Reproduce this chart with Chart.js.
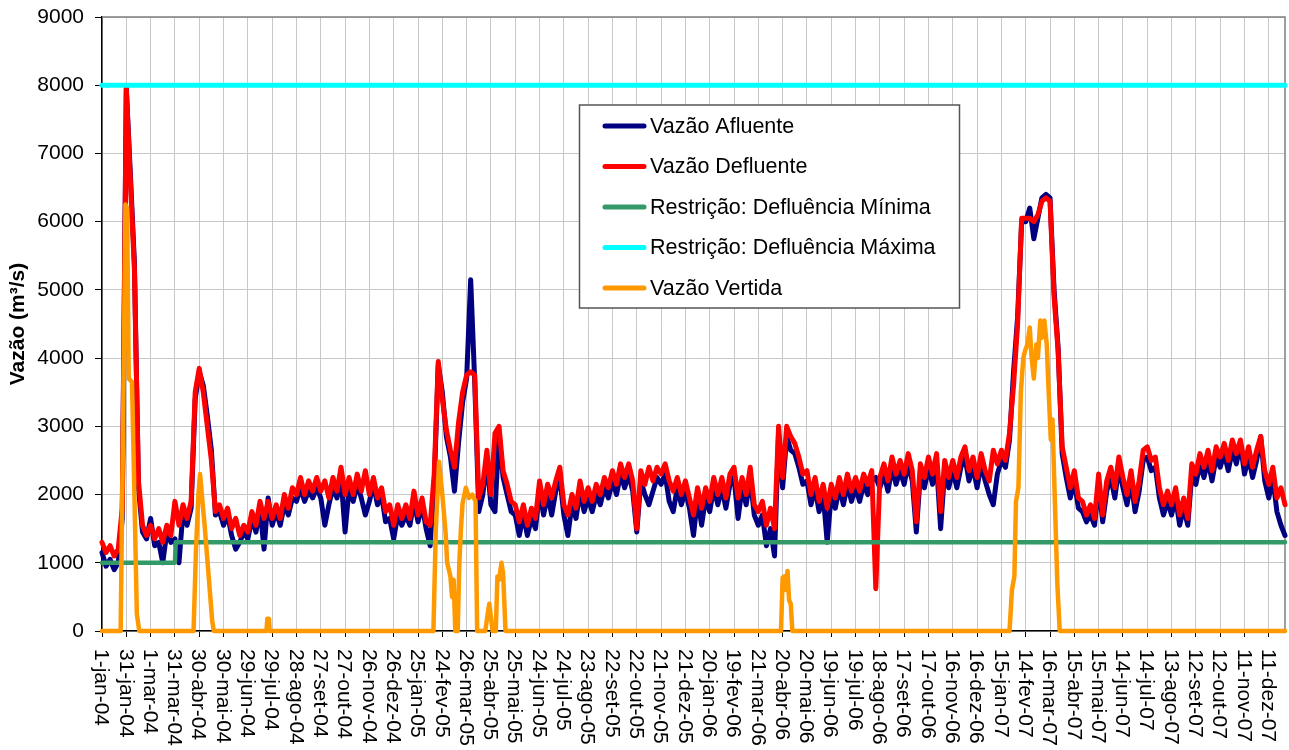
<!DOCTYPE html>
<html lang="pt">
<head>
<meta charset="utf-8">
<title>Vazões 2004-2007</title>
<script src="https://cdn.jsdelivr.net/npm/chart.js"></script>
<style>
  html, body { margin: 0; padding: 0; background: #fff; }
  #grafico { display: block; }
</style>
</head>
<body>
<canvas id="grafico" width="1289" height="750"></canvas>
<script>
// Rótulos do eixo X (um a cada 30 dias a partir de 1-jan-04)
const rotulosX = [
  '1-jan-04', '31-jan-04', '1-mar-04', '31-mar-04', '30-abr-04', '30-mai-04', '29-jun-04',
  '29-jul-04', '28-ago-04', '27-set-04', '27-out-04', '26-nov-04', '26-dez-04', '25-jan-05',
  '24-fev-05', '26-mar-05', '25-abr-05', '25-mai-05', '24-jun-05', '24-jul-05', '23-ago-05',
  '22-set-05', '22-out-05', '21-nov-05', '21-dez-05', '20-jan-06', '19-fev-06', '21-mar-06',
  '20-abr-06', '20-mai-06', '19-jun-06', '19-jul-06', '18-ago-06', '17-set-06', '17-out-06',
  '16-nov-06', '16-dez-06', '15-jan-07', '14-fev-07', '16-mar-07', '15-abr-07', '15-mai-07',
  '14-jun-07', '14-jul-07', '13-ago-07', '12-set-07', '12-out-07', '11-nov-07', '11-dez-07'
];
const diasEntreRotulos = 30;
const ultimoDia = 1460;

// Vazões, uma amostra a cada 5 dias (m³/s)
const passoDias = 5;
const vazaoDefluente = [
  1300, 1150, 1250, 1100, 1200, 1800,   7950, 6600, 5300, 2200, 1550, 1400,
  1550, 1350, 1500, 1300, 1550, 1400,   1900, 1550, 1850, 1650, 1900, 3500,
  3850, 3500, 3000, 2500, 1750, 1850,   1650, 1800, 1500, 1650, 1400, 1550,
  1450, 1750, 1550, 1900, 1650, 1900,   1650, 1850, 1650, 2000, 1800, 2100,
  2000, 2250, 2000, 2200, 2050, 2250,   2050, 2200, 1950, 2250, 2050, 2400,
  2000, 2250, 2000, 2300, 2050, 2350,   2000, 2250, 1950, 2100, 1750, 1850,
  1550, 1850, 1650, 1850, 1650, 2050,   1700, 1950, 1600, 1550, 2300, 3950,
  3400, 2950, 2650, 2400, 3050, 3500,   3750, 3800, 3750, 1950, 2150, 2650,
  2000, 2900, 3000, 2350, 2150, 1900,   1850, 1600, 1850, 1550, 1800, 1650,
  2200, 1850, 2150, 1950, 2200, 2400,   1850, 1700, 2000, 1800, 2200, 1900,
  2100, 1900, 2150, 2000, 2250, 2100,   2350, 2150, 2450, 2250, 2450, 2200,
  1500, 2350, 2150, 2400, 2200, 2400,   2300, 2450, 2200, 2050, 2250, 2000,
  2200, 1950, 1700, 2100, 1800, 2100,   1900, 2250, 2000, 2250, 1950, 2300,
  2400, 1950, 2250, 2000, 2400, 1850,   1750, 1900, 1550, 1800, 1500, 3000,
  2250, 3000, 2850, 2750, 2550, 2300,   2350, 2000, 2250, 1900, 2150, 1800,
  2150, 1950, 2250, 2000, 2300, 2050,   2250, 2050, 2300, 2150, 2350, 620,
  2250, 2450, 2200, 2550, 2300, 2500,   2300, 2600, 2350, 1600, 2450, 2250,
  2550, 2300, 2600, 1750, 2500, 2250,   2500, 2250, 2550, 2700, 2350, 2550,
  2250, 2600, 2350, 2200, 2650, 2450,   2650, 2500, 2900, 3600, 4500, 6050,
  6050, 6050, 6000, 6100, 6300, 6350,   6300, 4900, 4100, 2700, 2400, 2100,
  2350, 1950, 1900, 1700, 1850, 1650,   2300, 1700, 2200, 2400, 2100, 2550,
  2250, 2000, 2350, 1900, 2200, 2650,   2700, 2500, 2550, 2100, 1850, 2050,
  1850, 2100, 1700, 1950, 1650, 2450,   2300, 2600, 2400, 2650, 2350, 2700,
  2550, 2750, 2500, 2800, 2600, 2800,   2450, 2700, 2400, 2650, 2850, 2350,
  2150, 2400, 1950, 2100, 1850
];
const vazaoAfluente = [
  1150, 950, 1050, 900, 1000, 1650,     7950, 6700, 5400, 2100, 1450, 1350,
  1650, 1250, 1300, 1000, 1450, 1300,   1350, 1000, 1750, 1550, 1800, 3400,
  3800, 3600, 3150, 2650, 1700, 1750,   1550, 1700, 1400, 1200, 1300, 1450,
  1350, 1650, 1450, 1800, 1200, 1950,   1550, 1750, 1550, 1850, 1700, 1950,
  1900, 2100, 1900, 2050, 1950, 2100,   1950, 1550, 1850, 2100, 1950, 2250,
  1450, 2100, 1900, 2150, 1950, 1700,   1900, 2150, 1850, 2000, 1600, 1650,
  1350, 1700, 1550, 1700, 1550, 1900,   1600, 1850, 1500, 1250, 2150, 3900,
  3500, 2850, 2550, 2050, 2750, 3350,   3700, 5150, 3650, 1750, 2000, 2500,
  1850, 1750, 2900, 2250, 2000, 1750,   1700, 1400, 1700, 1400, 1650, 1500,
  2050, 1700, 2000, 1700, 2050, 2250,   1700, 1400, 1850, 1650, 2050, 1750,
  1950, 1750, 2000, 1850, 2100, 1950,   2200, 2000, 2300, 2100, 2300, 2050,
  1450, 2200, 2000, 1850, 2050, 2250,   2150, 2300, 1900, 1750, 2100, 1850,
  2050, 1800, 1400, 1950, 1550, 1950,   1750, 2100, 1850, 2100, 1800, 2150,
  2250, 1650, 2100, 1850, 2250, 1700,   1550, 1700, 1250, 1500, 1100, 2900,
  2100, 2850, 2650, 2600, 2400, 2150,   2200, 1850, 2100, 1750, 2000, 1300,
  2000, 1800, 2100, 1850, 2150, 1900,   2100, 1900, 2150, 2000, 2200, 2250,
  2100, 2300, 2050, 2400, 2150, 2350,   2150, 2450, 2200, 1450, 2300, 2100,
  2400, 2150, 2450, 1500, 2350, 2100,   2350, 2100, 2400, 2550, 2200, 2400,
  2100, 2450, 2200, 2000, 1850, 2300,   2500, 2400, 2800, 3800, 4600, 6000,
  6000, 6200, 5750, 6050, 6350, 6400,   6350, 5000, 4150, 2600, 2250, 1950,
  2200, 1800, 1750, 1600, 1700, 1550,   2150, 1600, 2050, 2250, 1950, 2400,
  2100, 1850, 2200, 1750, 2050, 2500,   2550, 2350, 2400, 1950, 1700, 1900,
  1700, 1950, 1550, 1800, 1550, 2300,   2150, 2450, 2250, 2500, 2200, 2550,
  2400, 2600, 2350, 2650, 2450, 2750,   2300, 2550, 2250, 2500, 2850, 2200,
  1950, 2250, 1750, 1550, 1400
];

// Vazão vertida: só os trechos não nulos (dia, valor)
const vertidaDias = [
  0, 23, 26, 29, 31, 33, 37, 40, 43, 46,
  113, 116, 119, 121, 124, 127, 130, 133, 136, 138,
  203, 204, 206, 207,
  409, 412, 416, 420, 424, 426, 430, 432, 434, 436, 439, 441, 443, 445, 449, 453, 457, 461, 463,
  473, 476, 478, 480, 482,
  486, 488, 490, 493, 495, 498,
  838, 840, 842, 844, 846, 848, 850, 852,
  1120, 1123, 1126, 1128, 1131, 1134, 1137, 1139, 1142, 1145, 1147, 1150, 1153, 1155, 1158,
  1160, 1163, 1166, 1168, 1171, 1173, 1176, 1179, 1182,
  1460
];
const vertidaValores = [
  0, 0, 3000, 6250, 6200, 3700, 3650, 2000, 250, 0,
  0, 1200, 2000, 2300, 1900, 1500, 1050, 600, 150, 0,
  0, 180, 180, 0,
  0, 1500, 2480, 2000, 1450, 1000, 800, 500, 750, 0, 0, 1000, 1500, 1870, 2100, 1950, 2000, 1900, 0,
  0, 250, 400, 200, 0,
  0, 800, 750, 1000, 850, 0,
  0, 780, 800, 600, 880, 450, 400, 0,
  0, 600, 800, 1900, 2100, 3500, 4000, 4100, 4200, 4450, 4050, 3700, 4200, 4000, 4550,
  4300, 4550, 4200, 3600, 2800, 3100, 1900, 700, 0,
  0
];

// Restrições de defluência
const minimaDias = [0, 90, 91, 1460];
const minimaValores = [1000, 1000, 1300, 1300];
const maximaDias = [0, 1460];
const maximaValores = [8000, 8000];

const fonte = "'Liberation Sans', Arial, Helvetica, sans-serif";
Chart.defaults.font.family = fonte;
Chart.defaults.color = '#000';

function pontos(dias, valores) {
  return valores.map((v, i) => ({ x: dias[i], y: v }));
}

function pontosDiarios(valores) {
  return valores.map((v, i) => ({ x: i * passoDias, y: v }));
}

// Moldura cinza no topo e à direita da área do gráfico
const moldura = {
  id: 'moldura',
  beforeDatasetsDraw(chart) {
    const { ctx, chartArea: a } = chart;
    ctx.save();
    ctx.strokeStyle = '#808080';
    ctx.lineWidth = 1.5;
    ctx.beginPath();
    ctx.moveTo(a.left, a.top);
    ctx.lineTo(a.right, a.top);
    ctx.lineTo(a.right, a.bottom);
    ctx.stroke();
    ctx.restore();
  }
};

// Rótulos do eixo X girados 90° no sentido horário
const rotulosEixoX = {
  id: 'rotulosEixoX',
  afterDraw(chart) {
    const { ctx, scales: { x }, chartArea } = chart;
    ctx.save();
    ctx.font = '21px ' + fonte;
    ctx.fillStyle = '#000';
    ctx.textAlign = 'left';
    ctx.textBaseline = 'middle';
    rotulosX.forEach((rotulo, i) => {
      const px = x.getPixelForValue(i * diasEntreRotulos);
      ctx.save();
      ctx.translate(px - 1, chartArea.bottom + 18);
      ctx.rotate(Math.PI / 2);
      ctx.fillText(rotulo, 0, 0);
      ctx.restore();
    });
    ctx.restore();
  }
};

// Título do eixo Y
const tituloEixoY = {
  id: 'tituloEixoY',
  afterDraw(chart) {
    const { ctx, chartArea } = chart;
    ctx.save();
    ctx.font = 'bold 21px ' + fonte;
    ctx.fillStyle = '#000';
    ctx.textAlign = 'center';
    ctx.textBaseline = 'middle';
    ctx.translate(18, (chartArea.top + chartArea.bottom) / 2);
    ctx.rotate(-Math.PI / 2);
    ctx.fillText('Vazão (m³/s)', 0, 0);
    ctx.restore();
  }
};

// Legenda dentro da área do gráfico
const legendaInterna = {
  id: 'legendaInterna',
  afterDraw(chart) {
    const { ctx } = chart;
    const caixa = { x: 579.5, y: 105, w: 380, h: 203 };
    const itens = [
      { texto: 'Vazão Afluente', cor: '#000080' },
      { texto: 'Vazão Defluente', cor: '#ff0000' },
      { texto: 'Restrição: Defluência Mínima', cor: '#339966' },
      { texto: 'Restrição: Defluência Máxima', cor: '#00ffff' },
      { texto: 'Vazão Vertida', cor: '#ff9900' }
    ];
    ctx.save();
    ctx.fillStyle = '#fff';
    ctx.fillRect(caixa.x, caixa.y, caixa.w, caixa.h);
    ctx.strokeStyle = '#555';
    ctx.lineWidth = 1.5;
    ctx.strokeRect(caixa.x, caixa.y, caixa.w, caixa.h);
    ctx.font = '21.5px ' + fonte;
    ctx.textBaseline = 'middle';
    ctx.textAlign = 'left';
    ctx.lineCap = 'round';
    itens.forEach((item, i) => {
      const y = 126 + i * 40.5;
      ctx.strokeStyle = item.cor;
      ctx.lineWidth = 5;
      ctx.beginPath();
      ctx.moveTo(605, y);
      ctx.lineTo(644, y);
      ctx.stroke();
      ctx.fillStyle = '#000';
      ctx.fillText(item.texto, 650, y + 1);
    });
    ctx.restore();
  }
};

const serie = (label, data, cor, largura, ordem) => ({
  label, data,
  borderColor: cor,
  backgroundColor: cor,
  borderWidth: largura,
  pointRadius: 0,
  tension: 0,
  fill: false,
  clip: 8,
  order: ordem
});

new Chart(document.getElementById('grafico').getContext('2d'), {
  type: 'line',
  data: {
    datasets: [
      serie('Vazão Afluente', pontosDiarios(vazaoAfluente), '#000080', 5, 5),
      serie('Vazão Defluente', pontosDiarios(vazaoDefluente), '#ff0000', 5, 4),
      serie('Restrição: Defluência Mínima', pontos(minimaDias, minimaValores), '#339966', 4.5, 3),
      serie('Restrição: Defluência Máxima', pontos(maximaDias, maximaValores), '#00ffff', 5, 2),
      serie('Vazão Vertida', pontos(vertidaDias, vertidaValores), '#ff9900', 4.5, 1)
    ]
  },
  options: {
    responsive: false,
    animation: false,
    devicePixelRatio: 1,
    layout: { padding: { top: 17, right: 4, left: 0, bottom: 0 } },
    elements: { line: { borderJoinStyle: 'round', borderCapStyle: 'round' } },
    plugins: {
      legend: { display: false },
      tooltip: { enabled: false }
    },
    scales: {
      x: {
        type: 'linear',
        min: 0,
        max: ultimoDia,
        afterBuildTicks: (escala) => {
          escala.ticks = rotulosX.map((_, i) => ({ value: i * diasEntreRotulos }));
        },
        afterFit: (escala) => { escala.height = 119; },
        ticks: { display: false, autoSkip: false },
        grid: { color: '#c8c8c8', lineWidth: 1, tickColor: '#000', tickLength: 6 },
        border: { color: '#000', width: 1.5 }
      },
      y: {
        min: 0,
        max: 9000,
        afterFit: (escala) => {
          escala.width = 102;
          escala.paddingTop = 0;
          escala.paddingBottom = 0;
        },
        ticks: {
          stepSize: 1000,
          padding: 11,
          color: '#000',
          font: { size: 21 },
          callback: (v) => String(v)
        },
        grid: { color: '#c8c8c8', lineWidth: 1, tickColor: '#000', tickLength: 7 },
        border: { color: '#000', width: 1.5 }
      }
    }
  },
  plugins: [moldura, rotulosEixoX, tituloEixoY, legendaInterna]
});
</script>
</body>
</html>
